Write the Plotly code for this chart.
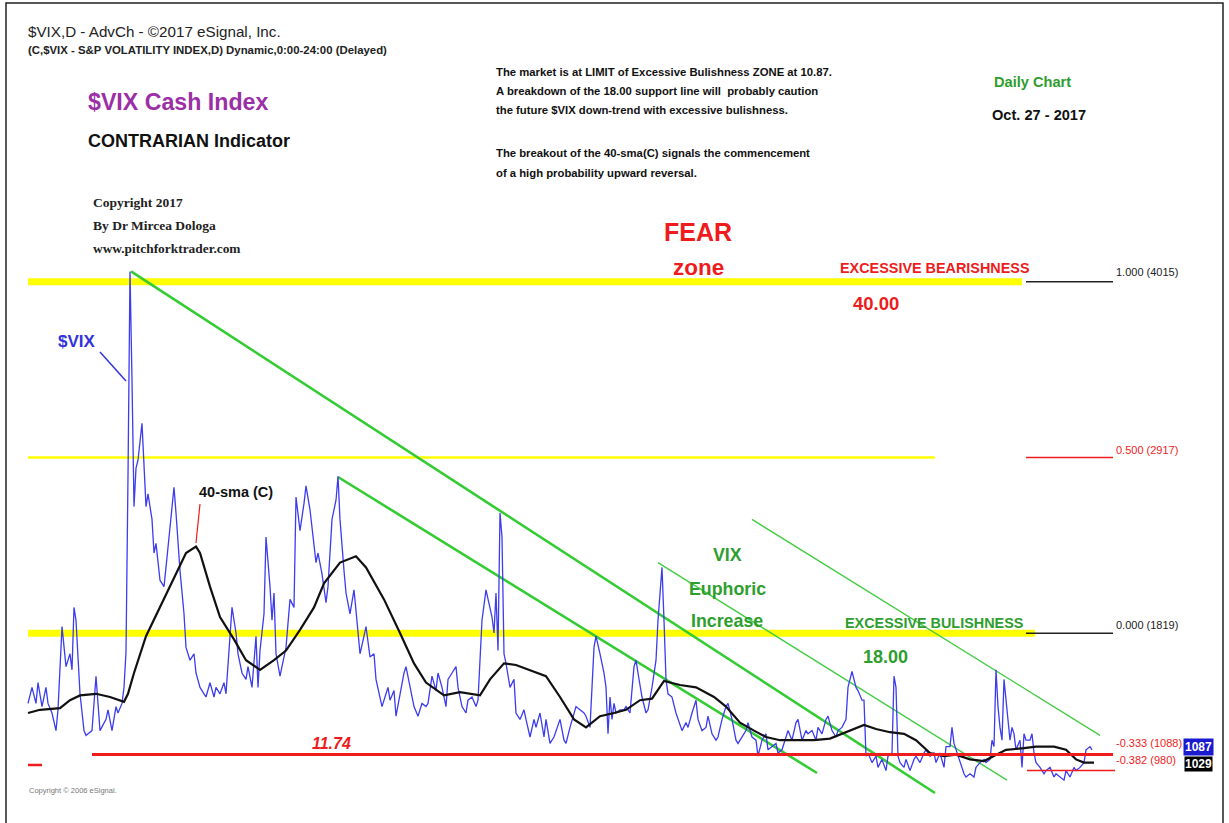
import plotly.graph_objects as go

# ---------------- data ----------------
# trading-day index (0 = first bar shown) and $VIX close
vix_day = [0, 2, 4, 5, 7, 9, 10, 12, 14, 15, 17, 19, 21, 22, 23, 24, 26, 28, 29, 32, 34, 36, 39, 40, 42, 44, 45, 47, 48,
           49, 50, 51, 52, 53, 54, 55, 57, 58, 59, 60, 62, 63, 64, 66, 68, 69, 71, 73, 74, 76, 78, 79, 81, 83, 84, 86,
           88, 89, 91, 93, 94, 96, 98, 99, 102, 104, 105, 107, 109, 110, 112, 114, 115, 116, 118, 119, 121, 122, 123,
           124, 126, 128, 129, 131, 133, 134, 136, 138, 139, 141, 143, 144, 145, 147, 149, 150, 152, 154, 155, 156,
           158, 159, 161, 163, 164, 166, 168, 169, 171, 173, 174, 177, 179, 180, 181, 183, 184, 186, 188, 189, 191,
           193, 195, 197, 199, 200, 202, 204, 205, 207, 209, 210, 212, 214, 215, 217, 219, 220, 222, 224, 225, 227,
           229, 230, 232, 233, 234, 235, 236, 237, 238, 239, 241, 243, 244, 246, 248, 249, 251, 253, 254, 256, 258,
           259, 261, 263, 264, 266, 268, 269, 271, 273, 274, 276, 278, 279, 281, 283, 284, 286, 288, 289, 290, 291,
           292, 293, 294, 296, 298, 299, 301, 303, 304, 305, 307, 309, 310, 312, 314, 315, 317, 318, 319, 320, 322,
           324, 325, 327, 329, 330, 332, 334, 335, 337, 339, 340, 342, 344, 345, 347, 349, 350, 352, 354, 355, 357,
           359, 360, 362, 364, 365, 367, 369, 370, 372, 374, 375, 377, 379, 380, 382, 384, 385, 387, 389, 390, 392,
           394, 395, 397, 399, 400, 402, 404, 405, 407, 409, 410, 412, 413, 414, 415, 417, 418, 419, 420, 422, 424,
           425, 427, 429, 430, 432, 433, 434, 435, 436, 438, 439, 441, 443, 444, 446, 448, 449, 451, 453, 454, 456,
           458, 459, 461, 462, 463, 464, 466, 468, 469, 471, 473, 474, 476, 478, 479, 481, 482, 483, 484, 485, 486,
           487, 488, 489, 491, 492, 493, 494, 496, 497, 498, 499, 501, 502, 503, 504, 506, 508, 509, 511, 513, 514,
           516, 518, 519, 521, 523, 524, 526, 528, 529, 531, 532]
vix_close = [13.8, 14.8, 13.8, 15.1, 13.6, 14.8, 13.8, 13.2, 12.1, 13.4, 18.6, 16.1, 16.9, 15.9, 19.8, 19.0, 14.4, 12.1,
             11.8, 12.1, 15.5, 12.1, 12.8, 13.4, 12.1, 13.6, 13.2, 13.8, 14.8,
             17.0, 28.0, 40.8, 34.0, 26.1, 28.5, 29.0, 31.3, 29.0, 26.1, 26.9, 25.3, 23.2, 23.8, 21.5, 21.1, 22.3,
             24.8, 27.3, 25.7, 22.1, 19.4, 17.3, 16.5, 16.9, 15.7, 14.8,
             14.4, 14.2, 15.1, 14.2, 14.8, 14.4, 15.1, 14.4, 19.8, 18.2, 16.9, 15.7, 15.3, 16.1, 14.8, 18.0, 14.8,
             17.1, 19.4, 24.2, 21.1, 19.0, 20.7,
             16.9, 15.5, 16.7, 17.3, 20.3, 19.8, 26.7, 24.6, 26.3, 27.4, 25.9, 23.6, 22.6, 23.2, 21.9, 20.1, 21.1,
             25.3, 26.5, 28.0, 25.3,
             22.1, 20.7, 19.4, 20.9, 19.6, 16.9, 18.0, 18.6, 16.7, 16.9, 15.3, 13.6, 14.4, 14.8, 14.0, 14.6, 13.0,
             14.4, 15.7, 16.1, 14.8,
             13.6, 13.0, 13.8, 13.6, 13.8, 15.5, 14.6, 15.7, 14.8, 13.6, 15.3, 15.7, 16.1, 14.8, 13.6, 13.2, 14.0,
             14.2, 13.6, 14.0, 19.0,
             20.9, 20.3, 19.2, 18.2, 20.7, 17.1, 25.7, 24.2, 16.9, 16.3, 14.8, 15.3, 13.2, 12.8, 13.4, 12.8, 11.7,
             12.8, 12.3, 13.2, 11.7,
             12.8, 11.3, 11.7, 12.1, 12.8, 11.5, 11.3, 12.3, 13.2, 13.6, 13.4, 13.2, 13.0, 12.3, 17.3, 18.0, 16.9,
             15.7, 14.8, 11.9, 14.2,
             12.8, 13.8, 13.2, 13.4, 13.4, 13.6, 13.2, 16.1, 16.5, 15.7, 14.2, 13.2, 13.4, 14.8, 16.5, 19.0, 22.3,
             19.0, 15.3, 14.4, 14.2,
             13.2, 12.8, 12.1, 12.6, 12.3, 13.2, 14.0, 12.8, 12.1, 12.3, 13.0, 11.9, 11.5, 11.7, 12.8, 13.6, 13.8,
             12.8, 11.5, 11.3, 11.7,
             12.1, 12.6, 11.7, 11.5, 10.5, 11.5, 11.9, 10.9, 11.1, 11.3, 10.7, 10.9, 11.7, 12.1, 11.5, 12.6, 12.8,
             11.5, 12.1, 11.9, 12.1,
             11.5, 12.3, 11.9, 12.8, 13.0, 12.1, 11.7, 12.1, 12.3, 12.8, 14.8, 15.8, 15.3, 14.8, 14.6, 14.0, 14.0,
             10.5, 10.7, 10.1, 10.5,
             9.8, 10.3, 9.6, 10.5, 10.7, 15.5, 14.8, 10.5, 10.1, 9.8, 10.3, 9.6, 10.3, 10.5, 10.1, 10.7, 10.9, 10.5,
             10.7, 10.1, 10.7,
             9.8, 11.1, 11.1, 12.3, 11.3, 10.9, 10.1, 9.4, 9.2, 9.4, 9.2, 9.8, 10.1, 10.3, 10.1, 10.3, 11.5, 11.1,
             15.9, 13.6, 12.3,
             11.5, 15.3, 14.0, 11.5, 12.3, 11.9, 10.9, 11.5, 9.8, 11.9, 11.5, 11.5, 11.9, 10.7, 10.1, 9.8, 9.4, 9.6,
             9.8, 9.2, 9.4,
             9.2, 9.0, 9.6, 9.2, 9.8, 9.6, 9.8, 10.1, 10.9, 11.1, 10.9]

# 40-period simple moving average of the close
sma_day = [0, 6, 16, 21, 26, 34, 41, 48, 50, 53, 59, 66, 73, 79, 84, 86, 91, 96, 103, 109, 116, 123, 129, 136, 143,
           148, 156, 164, 169, 178, 186, 193, 199, 208, 216, 226, 231, 238, 244, 253, 259, 266, 273, 279, 284, 286,
           293, 299, 306, 312, 318, 326, 334, 343, 349, 356, 363, 369, 376, 384, 393, 401, 409, 418, 424, 431, 438,
           444, 451, 458, 464, 471, 478, 483, 489, 498, 504, 513, 519, 524, 528, 533]
sma_value = [13.2, 13.4, 13.5, 14.0, 14.3, 14.4, 14.2, 13.9, 14.4, 15.7, 18.0, 19.8, 21.7, 23.2, 23.6, 23.2, 21.1,
             19.2, 17.8, 16.5, 15.9, 16.5, 17.1, 18.4, 19.8, 21.3, 22.6, 23.0, 22.3, 20.3, 18.2, 16.3, 15.1, 14.3,
             14.5, 14.3, 15.3, 16.3, 16.2, 15.8, 15.5, 14.2, 12.8, 12.3, 12.8, 13.0, 13.2, 13.4, 14.0, 14.1, 15.2,
             14.95, 14.8, 14.2, 13.6, 12.6, 12.1, 11.7, 11.5, 11.5, 11.5, 11.6, 12.0, 12.45, 12.2, 12.0, 11.9, 11.5,
             10.7, 10.5, 10.6, 10.3, 10.2, 10.5, 10.9, 11.0, 11.1, 11.1, 10.9, 10.3, 10.1, 10.1]

# zone lines (yellow) and their end day
zone_values = [40.15, 29.17, 18.19]
zone_end_day = [497, 453.5, 503.5]

# Fibonacci labels on the right
fib_labels = ["1.000 (4015)", "0.500 (2917)", "0.000 (1819)", "-0.333 (1088)", "-0.382 (980)"]
fib_values = [40.15, 29.17, 18.19, 10.6, 9.6]

support_value = 10.6      # red support line labelled 11.74
left_mark_value = 9.95    # small red dash at far left

# green down-trend lines (start/end)
trend_start_day = [51.5, 155, 315, 362]
trend_start_val = [40.8, 27.95, 22.6, 25.3]
trend_end_day = [453.5, 394.5, 489.5, 536]
trend_end_val = [8.2, 9.45, 9.0, 11.8]

# ---------------- figure ----------------
W, H = 1229, 823
SANS = "Liberation Sans, Arial, sans-serif"
SERIF = "Liberation Serif, Times New Roman, serif"

X_RANGE = [-14, 600.5]
Y_RANGE = [6.325, 57.7625]

fig = go.Figure()

YELLOW = "#ffff00"
RED = "#ee1c1c"
GREEN = "#33cc33"
GREEN_T = "#44cc44"
TXT_GREEN = "#2e9e2e"

# yellow zone lines
zone_width = [7, 2.5, 7]
for v, e, w in zip(zone_values, zone_end_day, zone_width):
    fig.add_shape(type="line", xref="x", yref="y", x0=0, x1=e, y0=v, y1=v,
                  line=dict(color=YELLOW, width=w), layer="below")

# right-side fib stubs
fib_stub_color = ["#222222", RED, "#222222"]
for v, c in zip(zone_values, fib_stub_color):
    fig.add_shape(type="line", xref="x", yref="y", x0=499, x1=542.5, y0=v, y1=v,
                  line=dict(color=c, width=1.5))

# red support line + lower line + left dash
fig.add_shape(type="line", xref="x", yref="y", x0=32, x1=542.5, y0=support_value, y1=support_value,
              line=dict(color=RED, width=3))
fig.add_shape(type="line", xref="x", yref="y", x0=499.5, x1=543.5, y0=fib_values[4], y1=fib_values[4],
              line=dict(color=RED, width=1.5))
fig.add_shape(type="line", xref="x", yref="y", x0=0, x1=7, y0=left_mark_value, y1=left_mark_value,
              line=dict(color=RED, width=2.5))

# green trend lines
trend_width = [2.6, 2.6, 1.4, 1.4]
trend_color = [GREEN, GREEN, GREEN_T, GREEN_T]
for i in range(len(trend_start_day)):
    fig.add_trace(go.Scatter(x=[trend_start_day[i], trend_end_day[i]],
                             y=[trend_start_val[i], trend_end_val[i]],
                             mode="lines", line=dict(color=trend_color[i], width=trend_width[i]),
                             hoverinfo="skip", showlegend=False))

# VIX and SMA
fig.add_trace(go.Scatter(x=vix_day, y=vix_close, mode="lines",
                         line=dict(color="#3c3cf0", width=1.3), name="$VIX", showlegend=False))
fig.add_trace(go.Scatter(x=sma_day, y=sma_value, mode="lines",
                         line=dict(color="#111111", width=2.2), name="40-sma (C)", showlegend=False))


def px(x):
    return x / W


def py(y):
    return 1 - y / H


anns = []


def ann(text, x, y, size, color="black", xanchor="left", family=SANS, bold=True, italic=False):
    t = text
    if bold:
        t = "<b>" + t + "</b>"
    if italic:
        t = "<i>" + t + "</i>"
    anns.append(dict(text=t, x=px(x), y=py(y), xref="paper", yref="paper", xanchor=xanchor,
                     yanchor="middle", showarrow=False, font=dict(size=size, color=color, family=family)))


ann("$VIX,D - AdvCh - ©2017 eSignal, Inc.", 26, 31, 15.2, "#222222", bold=False)
ann("(C,$VIX - S&P VOLATILITY INDEX,D) Dynamic,0:00-24:00 (Delayed)", 26, 50, 11.4, "#222222")
ann("$VIX Cash Index", 86, 102, 23.2, "#9b2fa6")
ann("CONTRARIAN Indicator", 86, 141, 18, "#111111")
ann("Copyright 2017", 91, 203, 13.5, "#222222", family=SERIF)
ann("By Dr Mircea Dologa", 91, 225, 13.5, "#222222", family=SERIF)
ann("www.pitchforktrader.com", 91, 248, 13.4, "#222222", family=SERIF)

for t, yy in zip(["The market is at LIMIT of Excessive Bulishness ZONE at 10.87.",
                  "A breakdown of the 18.00 support line will  probably caution",
                  "the future $VIX down-trend with excessive bulishness.",
                  "The breakout of the 40-sma(C) signals the commencement",
                  "of a high probability upward reversal."],
                 [72, 91, 110, 153, 173]):
    ann(t, 494, yy, 11.3, "#111111")

ann("Daily Chart", 992, 82, 14.6, TXT_GREEN)
ann("Oct. 27 - 2017", 990, 115, 14.6, "#111111")

ann("FEAR", 698, 232, 25, RED, xanchor="center")
ann("zone", 698, 268, 22.5, RED, xanchor="center")
ann("EXCESSIVE BEARISHNESS", 838, 268, 14.4, RED)
ann("40.00", 876, 303, 18.5, RED, xanchor="center")

ann("$VIX", 56, 341, 17, "#3333dd")
ann("40-sma (C)", 197, 492, 14.5, "#111111")

ann("VIX", 727, 555, 17.8, TXT_GREEN, xanchor="center")
ann("Euphoric", 727, 589, 17.8, TXT_GREEN, xanchor="center")
ann("Increase", 727, 621, 17.8, TXT_GREEN, xanchor="center")
ann("EXCESSIVE BULISHNESS", 843, 623, 14.4, TXT_GREEN)
ann("18.00", 885, 657, 18, TXT_GREEN, xanchor="center")
ann("11.74", 310, 743, 16, RED, italic=True)

fib_label_y = [272, 450, 625, 743, 760]
fib_label_color = ["#222222", RED, "#222222", RED, RED]
for lab, yy, c in zip(fib_labels, fib_label_y, fib_label_color):
    ann(lab, 1114, yy, 11, c, bold=False)

ann("Copyright © 2006 eSignal.", 27, 790, 7.5, "#777777", bold=False)

# price boxes
anns.append(dict(text="<b>1029</b>", x=px(1198), y=py(764), xref="paper", yref="paper", xanchor="center",
                 yanchor="middle", showarrow=False, bgcolor="#000000", borderpad=0,
                 font=dict(size=12, color="white", family=SANS)))
anns.append(dict(text="<b>1087</b>", x=px(1198), y=py(747), xref="paper", yref="paper", xanchor="center",
                 yanchor="middle", showarrow=False, bgcolor="#1a1ad0", borderpad=1,
                 font=dict(size=12, color="white", family=SANS)))

# leader lines
fig.add_shape(type="line", xref="paper", yref="paper", x0=px(100), y0=py(352), x1=px(126), y1=py(381),
              line=dict(color="#3333dd", width=1.5))
fig.add_shape(type="line", xref="paper", yref="paper", x0=px(200), y0=py(504), x1=px(196), y1=py(543),
              line=dict(color=RED, width=1.2))

# outer frame
fig.add_shape(type="rect", xref="paper", yref="paper", x0=px(6), y0=py(830), x1=px(1223), y1=py(3),
              line=dict(color="#222222", width=1.5))

fig.update_layout(
    width=W, height=H, margin=dict(l=0, r=0, t=0, b=0),
    paper_bgcolor="white", plot_bgcolor="white",
    xaxis=dict(range=X_RANGE, visible=False, fixedrange=True),
    yaxis=dict(range=Y_RANGE, visible=False, fixedrange=True),
    annotations=anns, showlegend=False,
)

fig.write_html("out.html", config={"displayModeBar": False},
               post_script="document.body.style.margin='0';")
